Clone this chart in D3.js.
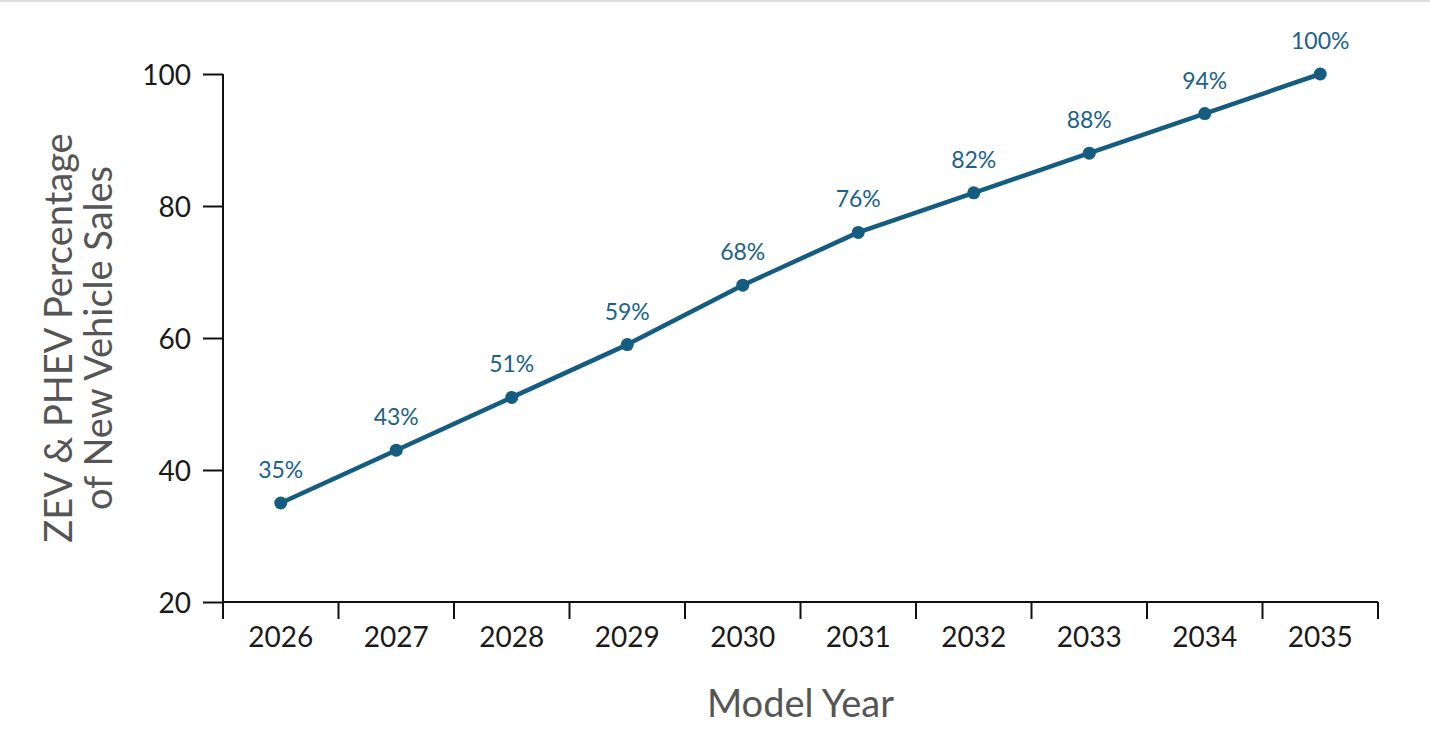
<!DOCTYPE html>
<html>
<head>
<meta charset="utf-8">
<script src="https://cdn.jsdelivr.net/npm/d3@7"></script>
<style>
  html, body { margin: 0; padding: 0; background: #fff; }
  body { width: 1430px; height: 750px; overflow: hidden; border-top: 2px solid #dcdcdc; box-sizing: border-box; }
  svg { display: block; }
  svg text { font-family: Lato, "Noto Sans", sans-serif; }
</style>
</head>
<body>
<script>
const years = ['2026', '2027', '2028', '2029', '2030', '2031', '2032', '2033', '2034', '2035']
const shares = [35, 43, 51, 59, 68, 76, 82, 88, 94, 100]
const yTicks = [20, 40, 60, 80, 100]

const w = 1430
const h = 748
const margin = { top: 72, right: 52, bottom: 148, left: 223 }
const lineColor = '#145d80'

const svg = d3.select('body')
  .append('svg')
  .attr('width', w)
  .attr('height', h)

const x = d3.scaleBand()
  .domain(years)
  .range([margin.left, w - margin.right])
  .padding(0)

const y = d3.scaleLinear()
  .domain([20, 100])
  .range([h - margin.bottom, margin.top])

// y axis
const yAxis = svg.append('g')
  .attr('transform', `translate(${margin.left},0)`)
  .call(d3.axisLeft(y).tickValues(yTicks).tickSize(20).tickPadding(12))
yAxis.attr('font-family', null)
yAxis.selectAll('path, line').attr('stroke', '#111').attr('stroke-width', 2)
yAxis.select('.domain').attr('d', `M0,${y(100)}V${y(20)}`)
yAxis.selectAll('text')
  .attr('fill', '#1a1a1a')
  .style('font-size', '28px')
  .attr('dy', '0.36em')

// x axis, ticks sit on band edges
const xAxis = svg.append('g')
  .attr('transform', `translate(0,${y(20)})`)
  .call(d3.axisBottom(x).tickSize(0).tickPadding(25))
xAxis.attr('font-family', null)
xAxis.select('.domain').attr('stroke', '#111').attr('stroke-width', 2)
  .attr('d', `M${x.range()[0]},0H${x.range()[1]}`)
xAxis.selectAll('text')
  .attr('fill', '#1a1a1a')
  .style('font-size', '28px')
xAxis.selectAll('line.edge')
  .data(years.map(d => x(d)).concat([x.range()[1]]))
  .enter()
  .append('line')
  .attr('class', 'edge')
  .attr('x1', d => d).attr('x2', d => d)
  .attr('y1', 0).attr('y2', 17)
  .attr('stroke', '#111')
  .attr('stroke-width', 2)

// axis titles
svg.append('text')
  .attr('x', (x.range()[0] + x.range()[1]) / 2)
  .attr('y', 715)
  .attr('text-anchor', 'middle')
  .attr('fill', '#555')
  .style('font-size', '38px')
  .text('Model Year')

const yTitle = svg.append('text')
  .attr('transform', `translate(72,${(y(20) + y(100)) / 2}) rotate(-90)`)
  .attr('text-anchor', 'middle')
  .attr('fill', '#555')
  .style('font-size', '38px')
yTitle.append('tspan').attr('x', 0).attr('dy', 0).text('ZEV & PHEV Percentage')
yTitle.append('tspan').attr('x', 0).attr('dy', 40).text('of New Vehicle Sales')

// line + points
const cx = d => x(d) + x.bandwidth() / 2
const line = d3.line()
  .x((d, i) => cx(years[i]))
  .y(d => y(d))

svg.append('path')
  .datum(shares)
  .attr('fill', 'none')
  .attr('stroke', lineColor)
  .attr('stroke-width', 4.5)
  .attr('stroke-linejoin', 'round')
  .attr('d', line)

svg.selectAll('circle.pt')
  .data(shares)
  .enter()
  .append('circle')
  .attr('class', 'pt')
  .attr('cx', (d, i) => cx(years[i]))
  .attr('cy', d => y(d))
  .attr('r', 6.5)
  .attr('fill', lineColor)

svg.selectAll('text.val')
  .data(shares)
  .enter()
  .append('text')
  .attr('class', 'val')
  .attr('x', (d, i) => cx(years[i]))
  .attr('y', d => y(d) - 25)
  .attr('text-anchor', 'middle')
  .attr('fill', '#1b6288')
  .style('font-size', '23px')
  .text(d => d + '%')
</script>
</body>
</html>
